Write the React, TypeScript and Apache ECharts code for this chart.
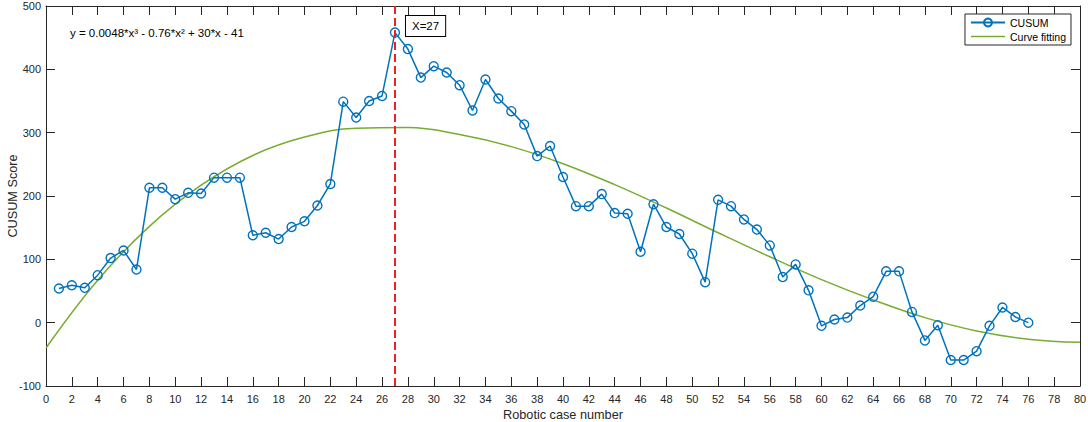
import React, { useEffect, useRef } from "react";
import * as echarts from "echarts";

const caseNumbers = Array.from({ length: 76 }, (_, i) => i + 1);
const cusumScores = [
  54, 59, 55, 75, 102, 114, 84, 213, 213, 195,
  205, 204, 229, 229, 229, 138, 142, 132, 151, 160,
  185, 219, 349, 324, 350, 358, 458, 432, 387, 405,
  395, 375, 335, 384, 354, 334, 313, 263, 279, 230,
  184, 184, 203, 173, 172, 112, 187, 151, 140, 109,
  64, 194, 184, 163, 147, 122, 72, 92, 51, -5,
  5, 8, 27, 41, 81, 81, 17, -28, -4, -59,
  -59, -45, -5, 24, 9, 0,
];
const fitX = [0, 4, 8, 12, 16, 20, 24, 28, 32, 36, 40, 44, 48, 52, 56, 60, 64, 68, 72, 76, 80];
const fitY = [-40, 67, 152, 217, 264, 293, 307, 308, 297, 278, 251, 218, 181, 142, 104, 68, 36, 8, -13, -26, -31];
const peakCase = 27;
const xTicks = { min: 0, max: 80, interval: 2 };
const yTicks = { min: -100, max: 500, interval: 100 };
const equationText = "y = 0.0048*x³ - 0.76*x² + 30*x - 41";

const FONT = "'Liberation Sans', Arial, Helvetica, sans-serif";
const INK = "#262626";
const LINE_ICON = "path://M0,0h0.01v0.01h-0.01z M0,4.3h34v1.4h-34z M33.99,9.99h0.01v0.01h-0.01z";

export default function App() {
  const ref = useRef<HTMLDivElement>(null);
  useEffect(() => {
    document.body.style.margin = "0";
    const chart = echarts.init(ref.current!, null, { renderer: "svg" });
    const tickCommon = { show: true, inside: true, length: 9, lineStyle: { color: INK, width: 1 } };
    const lineCommon = { show: true, onZero: false, lineStyle: { color: INK, width: 1 } };
    chart.setOption({
      animation: false,
      backgroundColor: "#fff",
      textStyle: { fontFamily: FONT, color: INK },
      grid: { left: 46, right: 8, top: 6, bottom: 36, containLabel: false, outerBoundsMode: "none" },
      legend: {
        right: 17,
        top: 14,
        orient: "vertical",
        align: "left",
        itemWidth: 34,
        itemHeight: 10,
        itemGap: 3,
        padding: [3, 5, 3, 5],
        borderColor: INK,
        borderWidth: 1,
        backgroundColor: "#fff",
        textStyle: { fontSize: 10.5, color: "#000", fontFamily: FONT },
        data: [{ name: "CUSUM" }, { name: "Curve fitting", icon: LINE_ICON }],
      },
      xAxis: [
        {
          type: "value",
          ...xTicks,
          name: "Robotic case number",
          nameLocation: "middle",
          nameGap: 21,
          nameTextStyle: { fontSize: 12.7, color: INK, fontFamily: FONT },
          axisLine: lineCommon,
          axisTick: tickCommon,
          axisLabel: { fontSize: 11, color: INK, margin: 7, fontFamily: FONT },
          splitLine: { show: false },
        },
        {
          type: "value",
          position: "top",
          ...xTicks,
          axisLine: lineCommon,
          axisTick: tickCommon,
          axisLabel: { show: false },
          splitLine: { show: false },
        },
      ],
      yAxis: [
        {
          type: "value",
          ...yTicks,
          name: "CUSUM Score",
          nameLocation: "middle",
          nameGap: 27,
          nameMoveOverlap: false,
          nameTextStyle: { fontSize: 12.7, color: INK, fontFamily: FONT },
          axisLine: lineCommon,
          axisTick: tickCommon,
          axisLabel: { fontSize: 11, color: INK, margin: 5, fontFamily: FONT },
          splitLine: { show: false },
        },
        {
          type: "value",
          position: "right",
          ...yTicks,
          axisLine: lineCommon,
          axisTick: tickCommon,
          axisLabel: { show: false },
          splitLine: { show: false },
        },
      ],
      series: [
        {
          name: "Curve fitting",
          type: "line",
          data: fitX.map((x, i) => [x, fitY[i]]),
          smooth: 0.4,
          symbol: "none",
          color: "#77AC30",
          lineStyle: { color: "#77AC30", width: 1.5 },
          z: 2,
        },
        {
          name: "CUSUM",
          type: "line",
          data: caseNumbers.map((x, i) => [x, cusumScores[i]]),
          symbol: "circle",
          symbolSize: 9,
          color: "#0072BD",
          lineStyle: { color: "#0072BD", width: 1.5 },
          itemStyle: { color: "rgba(255,255,255,0)", borderColor: "#0072BD", borderWidth: 1.4 },
          z: 3,
          markLine: {
            silent: true,
            symbol: "none",
            label: { show: false },
            lineStyle: { color: "#ee2020", type: [8, 4], width: 2 },
            data: [{ xAxis: peakCase }],
            z: 4,
          },
        },
      ],
    });
    const px = chart.convertToPixel({ xAxisIndex: 0 }, peakCase) as number;
    chart.setOption({
      graphic: [
        {
          type: "text",
          left: 70,
          top: 27,
          style: { text: equationText, fontSize: 11.5, fill: "#000", fontFamily: FONT },
          z: 10,
        },
        {
          type: "text",
          x: px + 11,
          y: 16,
          style: {
            text: "X=27",
            fontSize: 11.5,
            fill: "#000",
            fontFamily: FONT,
            padding: [4, 6, 4, 6],
            borderColor: "#000",
            borderWidth: 1,
            backgroundColor: "#fff",
          },
          z: 10,
        },
      ],
    });
    return () => chart.dispose();
  }, []);
  return <div ref={ref} style={{ width: 1088, height: 422 }} />;
}
